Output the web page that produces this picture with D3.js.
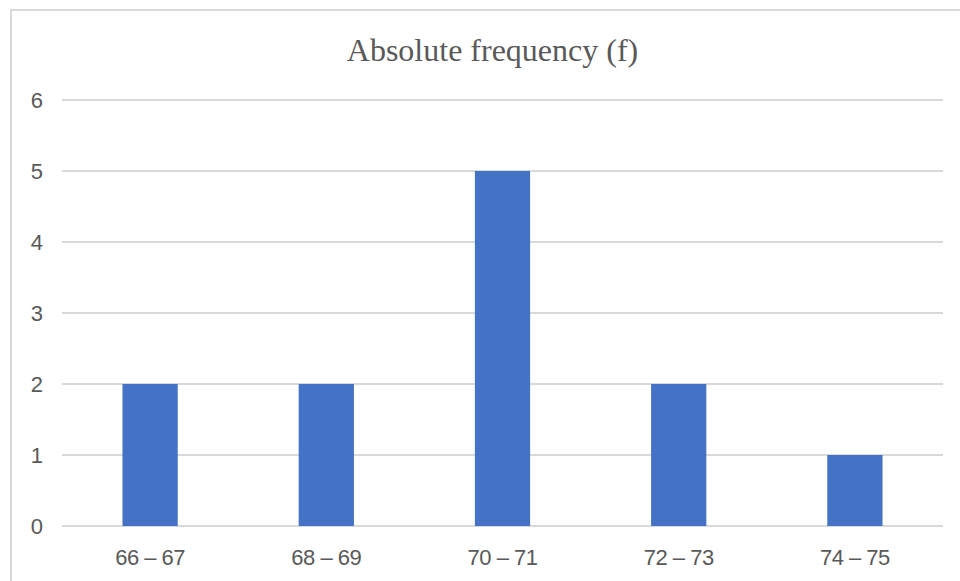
<!DOCTYPE html>
<html>
<head>
<meta charset="utf-8">
<script src="https://cdn.jsdelivr.net/npm/d3@7"></script>
<style>
  html, body { margin: 0; padding: 0; background: #fff; }
  svg { display: block; }
</style>
</head>
<body>
<svg id="chart" width="960" height="581"></svg>
<script>
const categories = ["66 \u2013 67", "68 \u2013 69", "70 \u2013 71", "72 \u2013 73", "74 \u2013 75"];
const values = [2, 2, 5, 2, 1];
const yTicks = [0, 1, 2, 3, 4, 5, 6];
const title = "Absolute frequency (f)";

const svg = d3.select("#chart");
const W = 960, H = 581;
const plot = { left: 62, right: 943, top: 100, bottom: 526 };

// chart area border
svg.append("rect")
  .attr("x", 11).attr("y", 10)
  .attr("width", W + 20).attr("height", H + 20)
  .attr("fill", "#fff")
  .attr("stroke", "#d9d9d9")
  .attr("stroke-width", 2);

const x = d3.scaleBand()
  .domain(categories)
  .range([plot.left, plot.right])
  .paddingInner(0.6865)
  .paddingOuter(0.3433);

const y = d3.scaleLinear()
  .domain([0, 6])
  .range([plot.bottom, plot.top]);

// gridlines
svg.append("g")
  .selectAll("line")
  .data(yTicks)
  .join("line")
  .attr("x1", plot.left).attr("x2", plot.right)
  .attr("y1", d => y(d)).attr("y2", d => y(d))
  .attr("stroke", "#d9d9d9")
  .attr("stroke-width", 2);

// y axis labels
const yAxis = d3.axisLeft(y).tickValues(yTicks).tickSize(0).tickPadding(0).tickFormat(d3.format("d"));
const gy = svg.append("g")
  .attr("transform", `translate(43,0)`)
  .call(yAxis);
gy.select(".domain").remove();
gy.selectAll("text")
  .attr("fill", "#595959")
  .attr("font-family", "'Liberation Sans', Arial, sans-serif")
  .attr("font-size", 22)
  .attr("dy", "0.36em");

// bars
svg.append("g")
  .selectAll("rect")
  .data(values)
  .join("rect")
  .attr("x", (d, i) => x(categories[i]))
  .attr("width", x.bandwidth())
  .attr("y", d => y(d))
  .attr("height", d => y(0) - y(d))
  .attr("fill", "#4472C4");

// x axis labels
const xAxis = d3.axisBottom(x).tickSize(0).tickPadding(0);
const gx = svg.append("g")
  .attr("transform", `translate(0,${plot.bottom})`)
  .call(xAxis);
gx.select(".domain").remove();
gx.selectAll("text")
  .attr("fill", "#595959")
  .attr("font-family", "'Liberation Sans', Arial, sans-serif")
  .attr("font-size", 22)
  .attr("letter-spacing", -0.5)
  .attr("dy", 0)
  .attr("y", 39);

// title
svg.append("text")
  .attr("x", 492.5)
  .attr("y", 61)
  .attr("text-anchor", "middle")
  .attr("fill", "#595959")
  .attr("font-family", "'Liberation Serif', 'Times New Roman', serif")
  .attr("font-size", 32)
  .text(title);
</script>
</body>
</html>
